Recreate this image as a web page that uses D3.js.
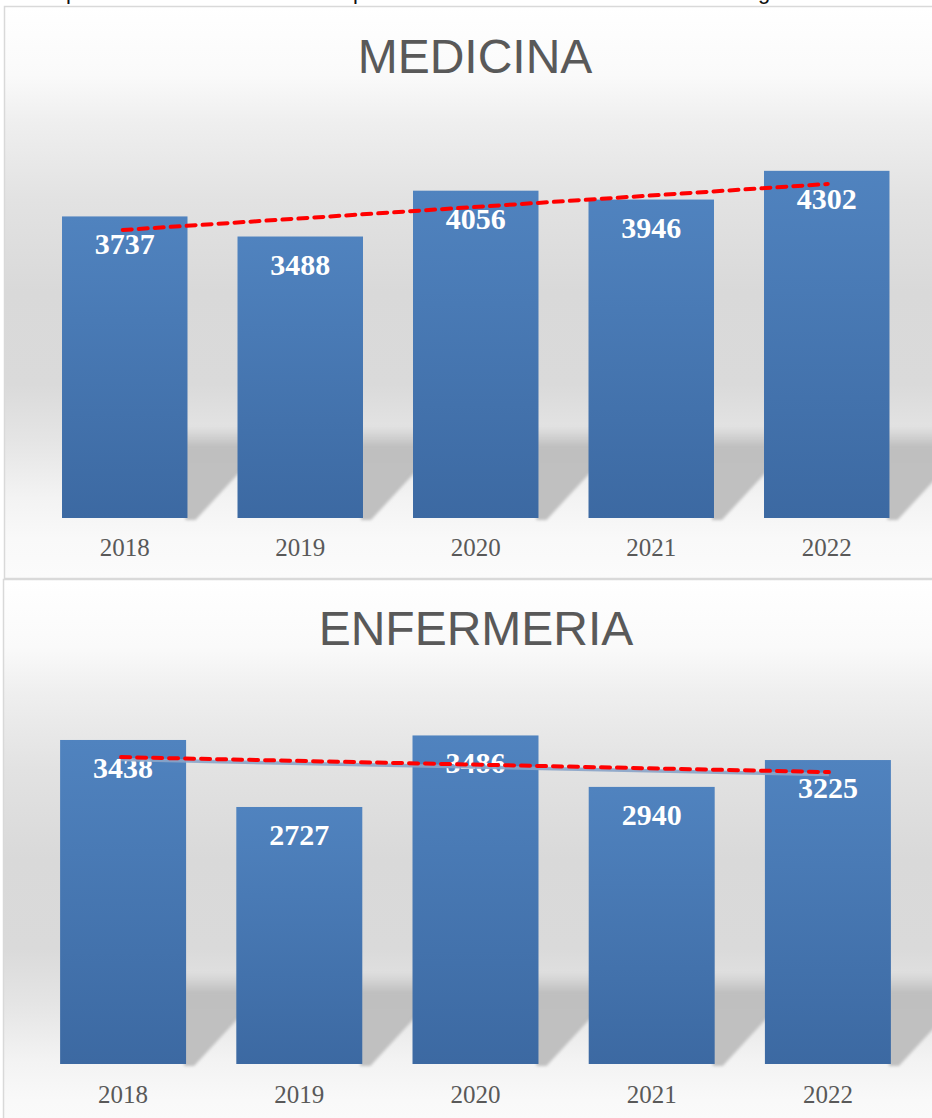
<!DOCTYPE html>
<html>
<head>
<meta charset="utf-8">
<script src="https://cdn.jsdelivr.net/npm/d3@7"></script>
<style>
  html, body { margin: 0; padding: 0; background: #ffffff; }
  svg { display: block; }
</style>
</head>
<body>
<div id="chart"></div>
<script>
// ---- data ----
const years = ["2018", "2019", "2020", "2021", "2022"];
const medicinaValues = [3737, 3488, 4056, 3946, 4302];
const enfermeriaValues = [3438, 2727, 3486, 2940, 3225];
// linear trend line end values (first year, last year)
const medicinaTrend = [3569, 4139];
const enfermeriaTrend = [3256, 3097];
const medicinaYMax = 5000;
const enfermeriaYMax = 4000;
const titles = ["MEDICINA", "ENFERMERIA"];
// fragments of the preceding document line, only descenders visible
const cutText = [{ t: "p", x: 66 }, { t: "p", x: 353 }, { t: "g", x: 758 }];

const W = 932, H = 1118;
const svg = d3.select("#chart").append("svg").attr("width", W).attr("height", H);
const defs = svg.append("defs");

// background gradient
const bg = defs.append("linearGradient").attr("id", "bgGrad")
  .attr("x1", 0).attr("y1", 0).attr("x2", 0).attr("y2", 1);
[[0, "#ffffff"], [0.12, "#fafafa"], [0.2, "#efefef"], [0.34, "#e2e2e2"], [0.5, "#d9d9d9"],
 [0.66, "#dadada"], [0.76, "#e5e5e5"], [0.86, "#f3f3f3"], [0.93, "#f9f9f9"], [1, "#fbfbfb"]]
  .forEach(([o, c]) => bg.append("stop").attr("offset", o).attr("stop-color", c));

// bar gradient
const bgBar = defs.append("linearGradient").attr("id", "barGrad")
  .attr("x1", 0).attr("y1", 0).attr("x2", 0).attr("y2", 1);
bgBar.append("stop").attr("offset", 0).attr("stop-color", "#5083bf");
bgBar.append("stop").attr("offset", 1).attr("stop-color", "#3c69a2");

// shadow gradient
const shG = defs.append("linearGradient").attr("id", "shGrad")
  .attr("x1", 0).attr("y1", 0).attr("x2", 0).attr("y2", 1);
shG.append("stop").attr("offset", 0).attr("stop-color", "#bfbfbf").attr("stop-opacity", 0);
shG.append("stop").attr("offset", 0.22).attr("stop-color", "#bfbfbf").attr("stop-opacity", 1);
shG.append("stop").attr("offset", 1).attr("stop-color", "#c0c0c0").attr("stop-opacity", 1);
const blur = defs.append("filter").attr("id", "blur").attr("x", "-20%").attr("y", "-20%")
  .attr("width", "140%").attr("height", "140%");
blur.append("feGaussianBlur").attr("stdDeviation", 1.6);

// cut-off line of text at the very top
svg.append("g").selectAll("text").data(cutText).join("text")
  .attr("x", d => d.x).attr("y", -1)
  .attr("font-family", "Liberation Sans, Arial, sans-serif")
  .attr("font-size", 22).attr("fill", "#111")
  .text(d => d.t);

function drawChart(cfg) {
  const g = svg.append("g");
  g.append("rect")
    .attr("x", cfg.boxX).attr("y", cfg.boxY)
    .attr("width", cfg.boxW).attr("height", cfg.boxH)
    .attr("fill", "url(#bgGrad)")
    .attr("stroke", "#d9d9d9").attr("stroke-width", 1.5);

  g.append("text")
    .attr("x", cfg.titleX).attr("y", cfg.titleY)
    .attr("text-anchor", "middle")
    .attr("font-family", "Liberation Sans, Arial, sans-serif")
    .attr("font-size", 48).attr("fill", "#595959")
    .text(cfg.title);

  const x = d3.scaleBand().domain(years).range(cfg.xRange)
    .paddingInner(0.285).paddingOuter(0.1425);
  const y = d3.scaleLinear().domain([0, cfg.yMax]).range([cfg.plotBottom, cfg.plotTop]);
  const bw = x.bandwidth();
  const base = y(0);

  // floor shadows
  g.append("g").attr("filter", "url(#blur)").selectAll("polygon")
    .data(cfg.values).join("polygon")
    .attr("fill", "url(#shGrad)")
    .attr("points", (d, i) => {
      const r = x(years[i]) + bw;
      return [[r - 2, base - 92], [r + 56, base - 92], [r + 56, base - 50],
              [r + 8, base + 2], [r - 2, base + 2]].map(p => p.join(",")).join(" ");
    });

  // bars
  g.append("g").selectAll("rect").data(cfg.values).join("rect")
    .attr("x", (d, i) => x(years[i]))
    .attr("y", d => y(d))
    .attr("width", bw)
    .attr("height", d => base - y(d))
    .attr("fill", "url(#barGrad)");

  // value labels
  g.append("g").selectAll("text").data(cfg.values).join("text")
    .attr("x", (d, i) => x(years[i]) + bw / 2)
    .attr("y", d => y(d) + 38)
    .attr("text-anchor", "middle")
    .attr("font-family", "Liberation Serif, Times New Roman, serif")
    .attr("font-weight", "bold")
    .attr("font-size", 30).attr("fill", "#ffffff")
    .text(d => d);

  // x axis
  const ax = g.append("g").attr("transform", `translate(0,${base})`)
    .call(d3.axisBottom(x).tickSize(0));
  ax.select(".domain").remove();
  ax.selectAll("text")
    .attr("y", cfg.axisOffset).attr("dy", 0)
    .attr("font-family", "Liberation Serif, Times New Roman, serif")
    .attr("font-size", 25).attr("fill", "#595959");

  // trend line
  const tx = [x(years[0]) + bw / 2 - 2, x(years[years.length - 1]) + bw / 2 + 1];
  const pts = cfg.trend.map((v, i) => [tx[i], y(v)]);
  const line = d3.line();
  if (cfg.trendShadow) {
    g.append("path").attr("d", line(pts.map(p => [p[0], p[1] + 2.5])))
      .attr("fill", "none").attr("stroke", "#8aa4c8").attr("stroke-width", 3.5)
      .attr("stroke-opacity", 0.9);
  }
  g.append("path").attr("d", line(pts))
    .attr("fill", "none").attr("stroke", "#ff0000").attr("stroke-width", 4)
    .attr("stroke-dasharray", "9,7").attr("stroke-linecap", "round");
}

drawChart({
  title: titles[0], values: medicinaValues, trend: medicinaTrend, yMax: medicinaYMax,
  boxX: 4.5, boxY: 6.5, boxW: 940, boxH: 572,
  titleX: 475, titleY: 73,
  xRange: [37, 914.5], plotTop: 114.5, plotBottom: 518, axisOffset: 38,
  trendShadow: false
});
drawChart({
  title: titles[1], values: enfermeriaValues, trend: enfermeriaTrend, yMax: enfermeriaYMax,
  boxX: 3.5, boxY: 579.5, boxW: 940, boxH: 560,
  titleX: 476, titleY: 645,
  xRange: [35, 916], plotTop: 687, plotBottom: 1064, axisOffset: 39,
  trendShadow: true
});
</script>
</body>
</html>
